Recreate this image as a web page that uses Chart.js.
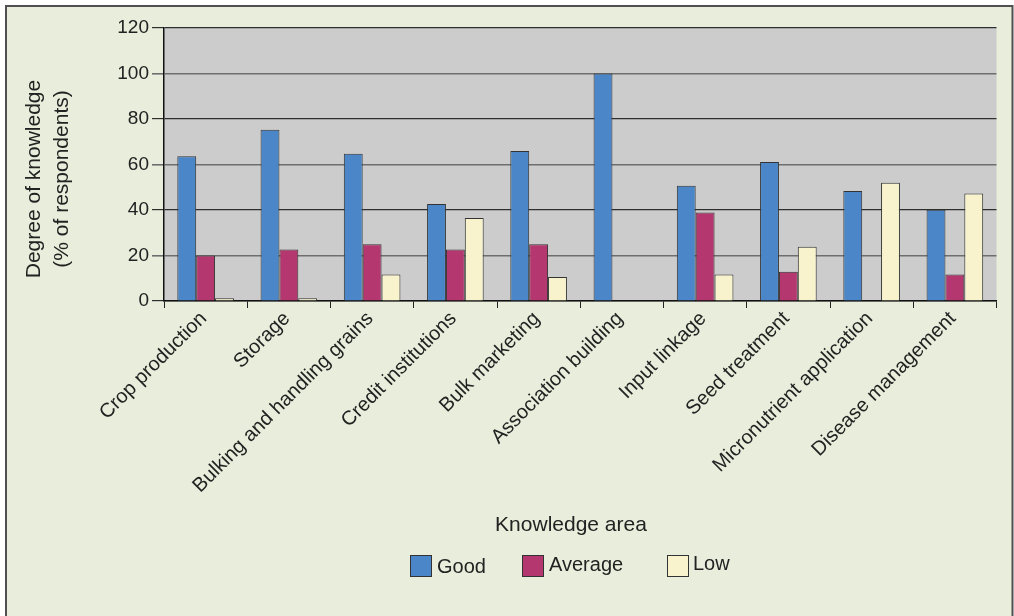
<!DOCTYPE html>
<html>
<head>
<meta charset="utf-8">
<title>Degree of knowledge by knowledge area</title>
<script src="https://cdn.jsdelivr.net/npm/chart.js@4.4.1/dist/chart.umd.min.js"></script>
<style>
  html, body { margin: 0; padding: 0; background: #ffffff; }
  #wrap { width: 1014px; height: 616px; }
</style>
</head>
<body>
<div id="wrap"><canvas id="chart" width="1014" height="616"></canvas></div>
<script>
// Knowledge areas surveyed
const categories = [
  'Crop production',
  'Storage',
  'Bulking and handling grains',
  'Credit institutions',
  'Bulk marketing',
  'Association building',
  'Input linkage',
  'Seed treatment',
  'Micronutrient application',
  'Disease management'
];

// Share of respondents (%) per knowledge level
const goodValues    = [63.6, 75.3, 64.7, 42.6, 65.9, 100, 50.7, 61.1, 48.4, 40.1];
const averageValues = [20.0, 22.6, 24.9, 22.6, 24.9, 0, 38.9, 12.9, 0, 11.7];
const lowValues     = [1.2, 1.2, 11.7, 36.5, 10.6, 0, 11.7, 23.8, 52.0, 47.3];

const seriesNames = ['Good', 'Average', 'Low'];
const yTicks = [0, 20, 40, 60, 80, 100, 120];

const yTitleLines = ['Degree of knowledge', '(% of respondents)'];
const xTitle = 'Knowledge area';

const COLORS = {
  good: '#4a86c8',
  average: '#b5376f',
  low: '#f8f3cd',
  edge: '#333333',
  page: '#e9eddb',
  plot: '#cccccc',
  text: '#222222'
};
const FONT = "'Liberation Sans', Arial, Helvetica, sans-serif";

// Page panel, plot background, axis titles and legend
const decor = {
  id: 'decor',
  beforeDraw(chart) {
    const { ctx, chartArea: a } = chart;
    ctx.save();
    ctx.fillStyle = '#ffffff';
    ctx.fillRect(0, 0, chart.width, chart.height);
    ctx.fillStyle = COLORS.page;
    ctx.fillRect(6, 6, chart.width - 7, chart.height);
    ctx.strokeStyle = '#505050';
    ctx.lineWidth = 2;
    ctx.beginPath();
    ctx.moveTo(6, chart.height + 2);
    ctx.lineTo(6, 6);
    ctx.lineTo(chart.width - 1.5, 6);
    ctx.lineTo(chart.width - 1.5, chart.height + 2);
    ctx.stroke();
    ctx.fillStyle = COLORS.plot;
    ctx.fillRect(a.left, a.top, a.right - a.left, a.bottom - a.top);
    ctx.restore();
  },
  afterDraw(chart) {
    const { ctx } = chart;
    ctx.save();
    ctx.fillStyle = COLORS.text;
    ctx.font = '21px ' + FONT;

    // y-axis title, two rotated lines
    ctx.textAlign = 'center';
    ctx.textBaseline = 'middle';
    [[34, yTitleLines[0]], [62, yTitleLines[1]]].forEach(([x, t]) => {
      ctx.save();
      ctx.translate(x, 179);
      ctx.rotate(-Math.PI / 2);
      ctx.fillText(t, 0, 0);
      ctx.restore();
    });

    // x-axis title
    ctx.textAlign = 'center';
    ctx.textBaseline = 'alphabetic';
    ctx.fillText(xTitle, 571, 531);

    // legend
    const items = [
      { box: 410, text: 437, base: 573 },
      { box: 522, text: 549, base: 571 },
      { box: 667, text: 693, base: 570 }
    ];
    ctx.font = '20px ' + FONT;
    ctx.textAlign = 'left';
    chart.data.datasets.forEach((ds, i) => {
      const it = items[i];
      ctx.fillStyle = ds.backgroundColor;
      ctx.fillRect(it.box, 555, 22, 22);
      ctx.strokeStyle = COLORS.edge;
      ctx.lineWidth = 1;
      ctx.strokeRect(it.box + 0.5, 555.5, 21, 21);
      ctx.fillStyle = COLORS.text;
      ctx.fillText(ds.label, it.text, it.base);
    });
    ctx.restore();
  }
};

const datasetStyle = {
  borderColor: COLORS.edge,
  borderWidth: 1,
  barPercentage: 1.0,
  categoryPercentage: 0.68
};

new Chart(document.getElementById('chart'), {
  type: 'bar',
  data: {
    labels: categories,
    datasets: [
      Object.assign({ label: seriesNames[0], data: goodValues, backgroundColor: COLORS.good }, datasetStyle),
      Object.assign({ label: seriesNames[1], data: averageValues, backgroundColor: COLORS.average }, datasetStyle),
      Object.assign({ label: seriesNames[2], data: lowValues, backgroundColor: COLORS.low }, datasetStyle)
    ]
  },
  options: {
    responsive: false,
    devicePixelRatio: 1,
    animation: false,
    layout: { padding: { left: 0, top: 28, right: 17.5, bottom: 0 } },
    plugins: {
      legend: { display: false },
      title: { display: false },
      tooltip: { enabled: false }
    },
    scales: {
      x: {
        ticks: {
          color: COLORS.text,
          font: { family: FONT, size: 20 },
          minRotation: 45,
          maxRotation: 45,
          autoSkip: false,
          padding: -1,
          labelOffset: -2
        },
        grid: {
          offset: true,
          drawOnChartArea: false,
          drawTicks: true,
          tickLength: 7,
          color: '#222222',
          lineWidth: 1
        },
        border: { display: true, color: '#111111', width: 1.5 },
        afterFit(scale) { scale.height = 315; }
      },
      y: {
        min: 0,
        max: 120,
        afterBuildTicks(scale) { scale.ticks = yTicks.map(v => ({ value: v })); },
        ticks: {
          color: COLORS.text,
          font: { family: FONT, size: 19 },
          padding: 3
        },
        grid: {
          drawTicks: true,
          tickLength: 12,
          color: ctx => ([20, 60, 100].includes(ctx.tick && ctx.tick.value) ? '#6e6e6e' : '#2e2e2e'),
          lineWidth: ctx => ([20, 60, 100].includes(ctx.tick && ctx.tick.value) ? 1.6 : 1.2)
        },
        border: { display: true, color: '#111111', width: 1.5 },
        afterFit(scale) { scale.width = 164; }
      }
    }
  },
  plugins: [decor]
});
</script>
</body>
</html>
